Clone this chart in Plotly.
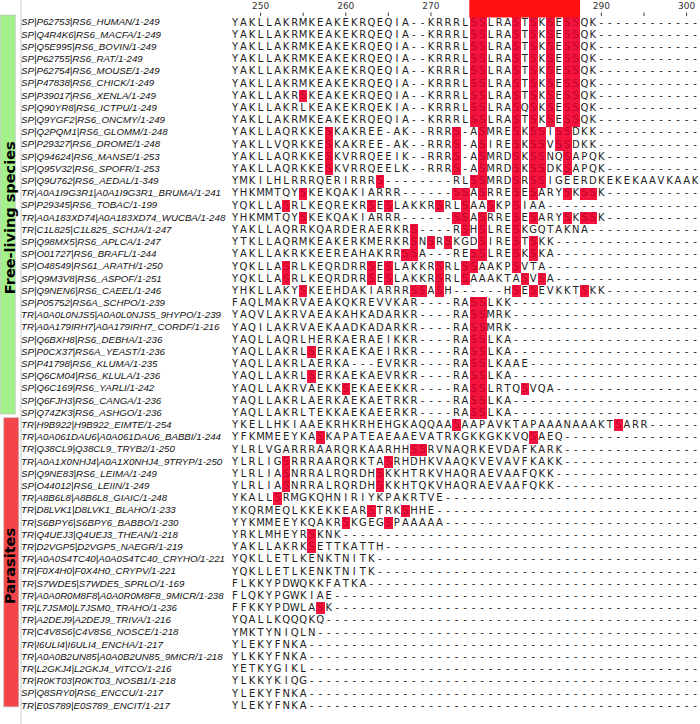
import plotly.graph_objects as go

# ---- alignment data ----
first_col = 247
n_cols = 55

names = [
    "SP|P62753|RS6_HUMAN/1-249", "SP|Q4R4K6|RS6_MACFA/1-249", "SP|Q5E995|RS6_BOVIN/1-249",
    "SP|P62755|RS6_RAT/1-249", "SP|P62754|RS6_MOUSE/1-249", "SP|P47838|RS6_CHICK/1-249",
    "SP|P39017|RS6_XENLA/1-249", "SP|Q90YR8|RS6_ICTPU/1-249", "SP|Q9YGF2|RS6_ONCMY/1-249",
    "SP|Q2PQM1|RS6_GLOMM/1-248", "SP|P29327|RS6_DROME/1-248", "SP|Q94624|RS6_MANSE/1-253",
    "SP|Q95V32|RS6_SPOFR/1-253", "SP|Q9U762|RS6_AEDAL/1-349",
    "TR|A0A1I9G3R1|A0A1I9G3R1_BRUMA/1-241", "SP|P29345|RS6_TOBAC/1-199",
    "TR|A0A183XD74|A0A183XD74_WUCBA/1-248", "TR|C1L825|C1L825_SCHJA/1-247",
    "SP|Q98MX5|RS6_APLCA/1-247", "SP|O01727|RS6_BRAFL/1-244", "SP|O48549|RS61_ARATH/1-250",
    "SP|Q9M3V8|RS6_ASPOF/1-251", "SP|Q9NEN6|RS6_CAEEL/1-246", "SP|P05752|RS6A_SCHPO/1-239",
    "TR|A0A0L0NJS5|A0A0L0NJS5_9HYPO/1-239", "TR|A0A179IRH7|A0A179IRH7_CORDF/1-216",
    "SP|Q6BXH8|RS6_DEBHA/1-236", "SP|P0CX37|RS6A_YEAST/1-236", "SP|P41798|RS6_KLUMA/1-235",
    "SP|Q6CM04|RS6_KLULA/1-236", "SP|Q6C169|RS6_YARLI/1-242", "SP|Q6FJH3|RS6_CANGA/1-236",
    "SP|Q74ZK3|RS6_ASHGO/1-236",
    "TR|H9B922|H9B922_EIMTE/1-254", "TR|A0A061DAU6|A0A061DAU6_BABBI/1-244",
    "TR|Q38CL9|Q38CL9_TRYB2/1-250", "TR|A0A1X0NHJ4|A0A1X0NHJ4_9TRYP/1-250",
    "SP|Q9NE83|RS6_LEIMA/1-249", "SP|O44012|RS6_LEIIN/1-249", "TR|A8B6L8|A8B6L8_GIAIC/1-248",
    "TR|D8LVK1|D8LVK1_BLAHO/1-233", "TR|S6BPY6|S6BPY6_BABBO/1-230", "TR|Q4UEJ3|Q4UEJ3_THEAN/1-218",
    "TR|D2VGP5|D2VGP5_NAEGR/1-219", "TR|A0A0S4TC40|A0A0S4TC40_CRYHO/1-221",
    "TR|F0X4H0|F0X4H0_CRYPV/1-221", "TR|S7WDE5|S7WDE5_SPRLO/1-169",
    "TR|A0A0R0M8F8|A0A0R0M8F8_9MICR/1-238", "TR|L7JSM0|L7JSM0_TRAHO/1-236",
    "TR|A2DEJ9|A2DEJ9_TRIVA/1-216", "TR|C4V8S6|C4V8S6_NOSCE/1-218", "TR|I6ULI4|I6ULI4_ENCHA/1-217",
    "TR|A0A0B2UN85|A0A0B2UN85_9MICR/1-218", "TR|L2GKJ4|L2GKJ4_VITCO/1-216",
    "TR|R0KT03|R0KT03_NOSB1/1-218", "SP|Q8SRY0|RS6_ENCCU/1-217", "TR|E0S789|E0S789_ENCIT/1-217",
]

seqs = [
    "YAKLLAKRMKEAKEKRQEQIA--KRRRLSSLRASTSKSESSQK",
    "YAKLLAKRMKEAKEKRQEQIA--KRRRLSSLRASTSKSESSQK",
    "YAKLLAKRMKEAKEKRQEQIA--KRRRLSSLRASTSKSESSQK",
    "YAKLLAKRMKEAKEKRQEQIA--KRRRLSSLRASTSKSESSQK",
    "YAKLLAKRMKEAKEKRQEQIA--KRRRLSSLRASTSKSESSQK",
    "YAKLLAKRMKEAKEKRQEQIA--KRRRLSSLRASTSKSESSQK",
    "YAKLLAKRSKEAKEKRQEQIA--KRRRLSSLRASTSKSESSQK",
    "YAKLLAKRLKEAKEKRQEKIA--KRRRLSSLRASQSKSESSQK",
    "YAKLLAKRMKEAKEKRQEQIA--KRRRLSSLRASTSKSESSQK",
    "YAKLLAQRKKESKAKREE-AK--RRRS-ASMRESKSSISSDKK",
    "YAKLLVQRKKESKAKREE-AK--RRRS-ASIRESKSSVSSDKK",
    "YAKLLAQRKKESKVRRQEEIK--RRRS-ASMRDSKSSNQSAPQK",
    "YAKLLAQRKKESKVRRQEELK--RRRS-ASMRDSKSSDKSAPQK",
    "YMKILHLRRRQERIRRRS--------RLSSMRDSRSSIGEERDKEKEKAAVKAAK",
    "YHKMMTQYSKEKQAKIARRR------SSASRRESESARYSKSSK",
    "YQKLLASRLKEQREKRSESLAKKRSRLSAASKPSIAA",
    "YHKMMTQYSKEKQAKIARRR------SSASRRESESARYSKSSK",
    "YAKLLAQRRKQARDERAERKRS----RSHSLRESKGQTAKNA",
    "YTKLLAQRMKEAKERKMERKRSNSRSKGDSIRESTSKK",
    "YAKLLAKRKKEEREAHAKRRSSA---RESSLRESKSKA",
    "YQKLLASRLKEQRDRRSESLAKKRSRLSSAAKPSVTA",
    "YQKLLASRLKEQRDRRSESLAKKRSRLSAAAKTASVSA",
    "YHKLLAKYSKEEHDAKIARRRSSASH------HSESEVKKTSKK",
    "FAQLMAKRVAEAKQKREVVKAR----RASSLKK",
    "YAQVLAKRVAEAKAHKADARKR----RASSMRK",
    "YAQILAKRVAEKAADKADARKR----RASSMRK",
    "YAQLLAQRLHERKAERAEIKKR----RASSLKA",
    "YAQLLAKRLSERKAEKAEIRKR----RASSLKA",
    "YAQLLAKRLAERKA---EVRKR----RASSLKAAE",
    "YAQLLAKRLSERKAEKAEVRKR----RASSLKA",
    "YAQLLAKRVAEKKSEKAEEKKR----RASSLRTQSVQA",
    "YAQLLAKRLAERKAEKAETRKR----RASSLKA",
    "YAQLLAKRLTEKKAEKAEERKR----RASSLKA",
    "YKELLHKIAAEKRHKRHEHGKAQQAASAAPAVKTAPAAANAAAKTSARR",
    "YFKMMEEYKASKAPATEAEAAEVATRKGKKGKKVQSAEQ",
    "YLRLVGARRRAARQRKAARHHSSRVNAQRKEVDAFKARK",
    "YLRLIGSRRRAARQRKTASRHDHKVAAQKVEVAVFKAKK",
    "YLRLIASNRRALRQRDHSKKHTRKVHAQRAEVAAFQKK",
    "YLRLIASNRRALRQRDHSKKHTQKVHAQRAEVAAFQKK",
    "YKALLSRMGKQHNIRIYKPAKRTVE",
    "YKQRMEQLKKEKKEARSTRKSHHE",
    "YYKMMEEYKQAKRSKGEGSPAAAAA",
    "YRKLMHEYRSKNK",
    "YAKLLAKRKSETTKATTH",
    "YQKLLETLKENKTNITK",
    "YQKLLETLKENKTNITK",
    "FLKKYPDWQKKFATKA",
    "FLQKYPGWKIAE",
    "FFKKYPDWLASK",
    "YQALLKQQQKQ",
    "YMKTYNIQLN",
    "YLEKYFNKA",
    "YLKKYFNKA",
    "YETKYGIKL",
    "YLKKYKIQG",
    "YLEKYFNKA",
    "YLEKYFNKA",
]

group_names = ["Free-living species", "Parasites"]
group_sizes = [33, 24]
group_colors = ["#a4f08a", "#f4454a"]

ruler_labels = [250, 260, 270, 280, 290, 300]
ruler_ticks = list(range(250, 301, 5))
star_cols = [275, 276, 280, 284, 287]

highlight_res = "S"
highlight_color = "#f2143c"

# ---- pixel geometry of the original view ----
PITCH = 8.52   # px per column
X0 = 235       # px centre of first column
ROW_H = 12.2   # px per row
Y0 = 23        # px centre of first row
W, H = 700, 724


def col_at(px):
    return first_col + (px - X0) / PITCH


def row_at(py):
    return (py - Y0) / ROW_H


seqs = [s.ljust(n_cols, "-") for s in seqs]
cols = [first_col + i for i in range(n_cols)]
rows = list(range(len(seqs)))

fig = go.Figure()

# S highlight cells
z = [[1 if ch == highlight_res else None for ch in s] for s in seqs]
fig.add_trace(go.Heatmap(
    x=cols, y=rows, z=z,
    colorscale=[[0, highlight_color], [1, highlight_color]],
    showscale=False, hoverinfo="skip", xgap=0, ygap=0
))

# residues
tx, ty, tt, sx, sy = [], [], [], [], []
for r, s in enumerate(seqs):
    for i, ch in enumerate(s):
        if ch == highlight_res:
            sx.append(cols[i]); sy.append(r)
        else:
            tx.append(cols[i]); ty.append(r); tt.append(ch)

fig.add_trace(go.Scatter(
    x=tx, y=ty, text=tt, mode="text", hoverinfo="skip",
    textfont=dict(family="DejaVu Sans", size=10, color="#222222")
))
fig.add_trace(go.Scatter(
    x=sx, y=sy, text=["S"] * len(sx), mode="text", hoverinfo="skip",
    textfont=dict(family="DejaVu Sans", size=10, color="#c4002c")
))

# sequence names
fig.add_trace(go.Scatter(
    x=[col_at(21)] * len(names), y=rows, text=["<i>%s</i>" % n for n in names],
    mode="text", textposition="middle right", hoverinfo="skip",
    textfont=dict(family="Liberation Sans", size=9.7, color="#111111")
))

# group bars
start = 0
for gname, size, color in zip(group_names, group_sizes, group_colors):
    fig.add_trace(go.Bar(
        x=[col_at(9.5)], y=[size - 0.3], base=[start - 0.65],
        width=[15 / PITCH], marker=dict(color=color, line=dict(color="#bbbbbb", width=0.6)),
        hoverinfo="skip"
    ))
    fig.add_annotation(
        x=col_at(10), y=start + (size - 1) / 2, text="<b>%s</b>" % gname,
        textangle=-90, showarrow=False,
        font=dict(family="DejaVu Sans", size=14.5, color="#000000")
    )
    start += size

# ruler
fig.add_trace(go.Scatter(
    x=ruler_labels, y=[row_at(7)] * len(ruler_labels),
    text=[str(v) for v in ruler_labels], mode="text", hoverinfo="skip",
    textfont=dict(family="DejaVu Sans", size=9, color="#333333")
))
tick_x, tick_y = [], []
for t in ruler_ticks:
    tick_x += [t, t, None]
    tick_y += [row_at(12.5), row_at(16), None]
fig.add_trace(go.Scatter(
    x=tick_x, y=tick_y, mode="lines", hoverinfo="skip",
    line=dict(color="#444444", width=1)
))

# header box over the phospho-site block
fig.add_shape(
    type="rect", layer="above", line=dict(width=0),
    fillcolor="#ff1010",
    x0=min(star_cols) - 0.5, x1=max(star_cols) + 0.5,
    y0=row_at(0), y1=row_at(17.5)
)
fig.add_trace(go.Scatter(
    x=star_cols, y=[row_at(9)] * len(star_cols), text=["*"] * len(star_cols),
    mode="text", hoverinfo="skip",
    textfont=dict(family="DejaVu Sans", size=11, color="#222222")
))

# panel divider
fig.add_shape(
    type="line", x0=col_at(21), x1=col_at(21), y0=row_at(0), y1=row_at(H),
    line=dict(color="#c8c8c8", width=1)
)

fig.update_layout(
    width=W, height=H, margin=dict(l=0, r=0, t=0, b=0),
    paper_bgcolor="white", plot_bgcolor="white", showlegend=False,
    xaxis=dict(visible=False, range=[col_at(0), col_at(W)], fixedrange=True),
    yaxis=dict(visible=False, range=[row_at(H), row_at(0)], fixedrange=True),
)

fig.write_html("out.html", config={"displayModeBar": False},
               post_script="document.body.style.margin='0px';")
